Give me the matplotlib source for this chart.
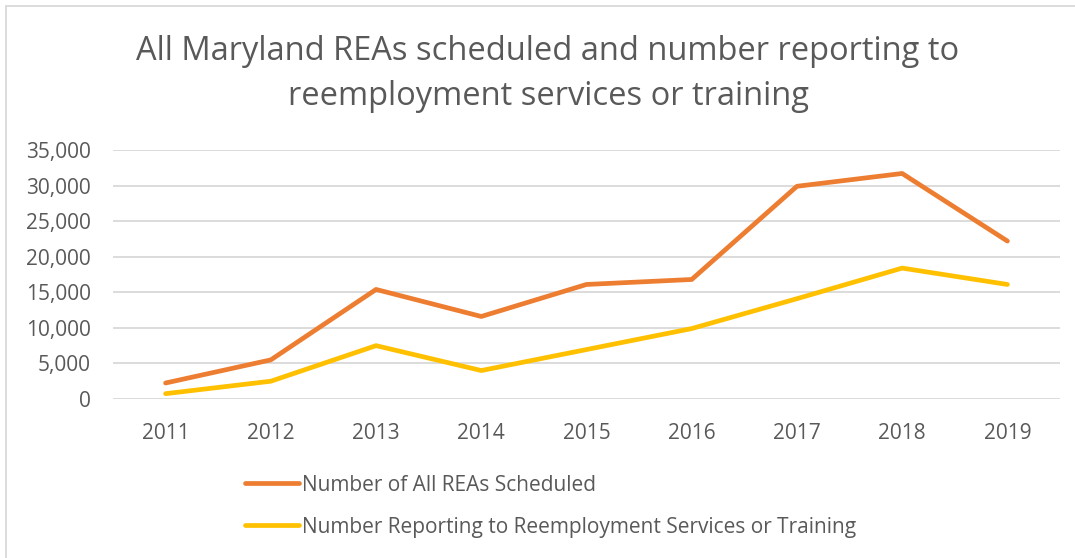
import matplotlib.pyplot as plt
from matplotlib.patches import Rectangle
from matplotlib.ticker import FuncFormatter

plt.rcParams['font.family'] = ['Open Sans', 'DejaVu Sans']

years = ['2011', '2012', '2013', '2014', '2015', '2016', '2017', '2018', '2019']
scheduled = [2250, 5500, 15400, 11600, 16100, 16800, 29900, 31700, 22200]
reporting = [750, 2500, 7500, 4000, 6950, 9900, 14100, 18400, 16100]

W, H = 1075, 558
fig = plt.figure(figsize=(W / 100, H / 100), dpi=100)

# axes box in pixels: left 113, right 1060, top 150, bottom 399
ax = fig.add_axes([113 / W, 1 - 399 / H, (1060 - 113) / W, (399 - 150) / H])

x = range(len(years))
ax.plot(x, scheduled, color='#ED7D31', lw=3.4, solid_capstyle='round', solid_joinstyle='round',
        label='Number of All REAs Scheduled')
ax.plot(x, reporting, color='#FFC000', lw=3.4, solid_capstyle='round', solid_joinstyle='round',
        label='Number Reporting to Reemployment Services or Training')

ax.set_xlim(-0.5, len(years) - 0.5)
ax.set_ylim(0, 35000)
ax.set_yticks(range(0, 35001, 5000))
ax.yaxis.set_major_formatter(FuncFormatter(lambda v, p: f'{int(v):,}'))
ax.set_xticks(list(x))
ax.set_xticklabels(years)
ax.grid(axis='y', color='#D9D9D9', lw=1.3)
ax.set_axisbelow(True)
for s in ax.spines.values():
    s.set_visible(False)
ax.tick_params(length=0, labelsize=15, colors='#595959')
ax.tick_params(axis='x', pad=17)
ax.tick_params(axis='y', pad=16)

fig.text(548 / W, 1 - 74 / H,
         'All Maryland REAs scheduled and number reporting to\nreemployment services or training',
         ha='center', va='center', fontsize=23.5, color='#595959', linespacing=1.5)

handles, labels = ax.get_legend_handles_labels()
fig.legend(handles, labels, loc='upper left', bbox_to_anchor=(226 / W, 1 - 456 / H),
           frameon=False, fontsize=15, labelcolor='#595959', handlelength=2.6,
           handletextpad=0.15, labelspacing=1.0)

fig.patches.append(Rectangle((6 / W, -0.1), (W + 20) / W, 1 - 6 / H + 0.1,
                             transform=fig.transFigure, fill=False,
                             edgecolor='#D9D9D9', lw=1.3))

fig.savefig('out.png', dpi=100)
